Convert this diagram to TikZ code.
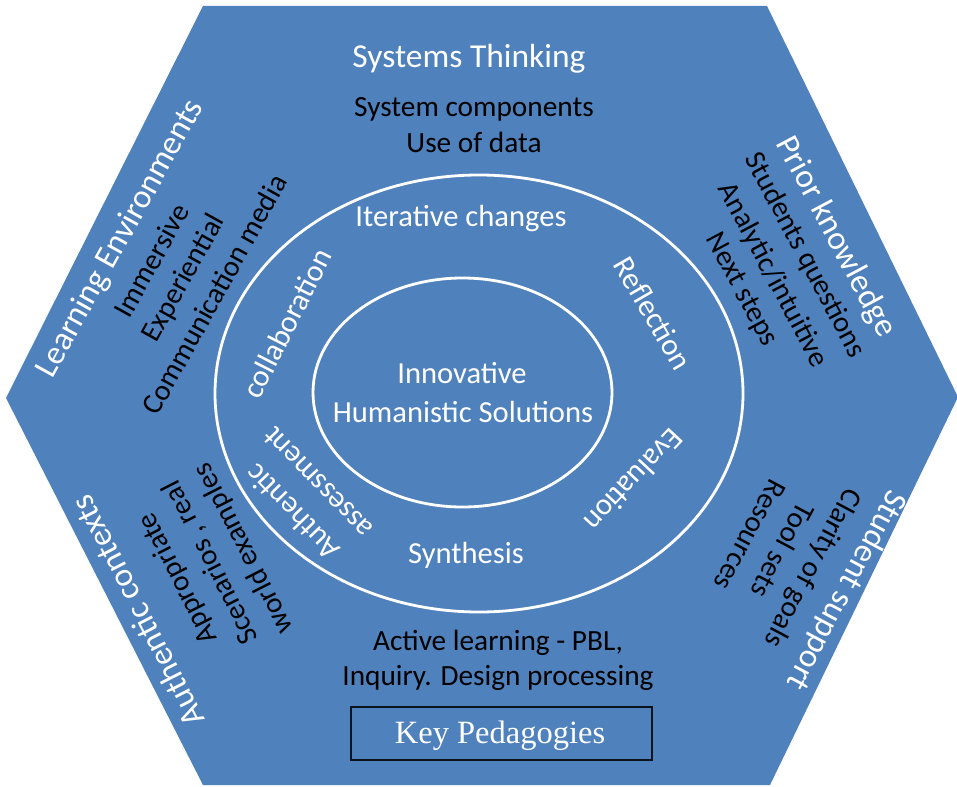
\documentclass[tikz,border=0pt]{standalone}
\usepackage{fontspec}
\setmainfont{Carlito}
\newfontfamily\serifkp{Liberation Serif}
\definecolor{hexblue}{RGB}{79,129,189}
\tikzset{
  heading/.style={text=white, font=\fontsize{33.5}{38}\selectfont, inner sep=0pt},
  ringtext/.style={text=white, font=\fontsize{30.6}{36}\selectfont, inner sep=0pt},
  itemtext/.style={text=black, font=\fontsize{29.3}{35}\selectfont, inner sep=0pt},
  ringline/.style={draw=white, line width=2.8pt},
  keybox/.style={draw=black!85!hexblue, line width=1.4pt, fill=none},
}
\begin{document}
\begin{tikzpicture}[x=1pt,y=-1pt]
\useasboundingbox (0,0) rectangle (957,786);
% hexagon
\fill[hexblue] (203,6) -- (767,6) -- (958,397) -- (770,785) -- (203,785) -- (6,398) -- cycle;
% ellipses
\draw[ringline] (479,393.5) ellipse [x radius=264, y radius=218.5];
\draw[ringline] (462.5,392.5) ellipse [x radius=149.5, y radius=114.5];
% top
\node[heading, anchor=base] (st) at (469,68) {Systems Thinking};
\node[itemtext, anchor=base] (sc) at (474,117) {System components};
\node[itemtext, anchor=base] (ud) at (474,153) {Use of data};
% ring
\node[ringtext, anchor=base] (ic) at (461,226) {Iterative changes};
\node[ringtext, anchor=base] (inn) at (462,383) {Innovative};
\node[ringtext, anchor=base] (hs) at (463,422) {Humanistic Solutions};
\node[ringtext, anchor=base] (syn) at (466,563) {Synthesis};
\node[ringtext, anchor=mid, rotate=63] (col) at (294,327) {collaboration};
\node[ringtext, anchor=mid, rotate=-60] (ref) at (646,317) {Reflection};
\node[ringtext, anchor=mid, rotate=-133] (eva) at (628,475) {Evaluation};
\node[ringtext, anchor=mid, rotate=134] (aut) at (298,507) {Authentic};
\node[ringtext, anchor=mid, rotate=134] (ass) at (323,478) {assessment};
% bottom
\node[itemtext, anchor=base] (al) at (498,650) {Active learning - PBL,};
\node[itemtext, anchor=base] (iq) at (498,685) {Inquiry. Design processing};
\draw[keybox] (351,707) rectangle (652,760);
\node[text=white, font=\serifkp\fontsize{32.5}{36}\selectfont, anchor=base, inner sep=0pt] (kp) at (500,743) {Key Pedagogies};
% learning environments
\node[heading, anchor=mid, rotate=61] (le) at (126,242) {Learning Environments};
\node[itemtext, anchor=mid, rotate=61] (imm) at (158,264) {Immersive};
\node[itemtext, anchor=mid, rotate=61] (exp) at (189,281) {Experiential};
\node[itemtext, anchor=mid, rotate=61] (com) at (221,298) {Communication media};
% prior knowledge
\node[heading, anchor=mid, rotate=-62] (pk) at (830,240) {Prior knowledge};
\node[itemtext, anchor=mid, rotate=-62] (sq) at (800,258) {Students questions};
\node[itemtext, anchor=mid, rotate=-62] (ai) at (768,278) {Analytic/intuitive};
\node[itemtext, anchor=mid, rotate=-62] (ns) at (737,292) {Next steps};
% student support
\node[heading, anchor=mid, rotate=-118] (ss) at (840,587) {Student support};
\node[itemtext, anchor=mid, rotate=-118] (cg) at (807,565) {Clarity of goals};
\node[itemtext, anchor=mid, rotate=-118] (ts) at (776,547) {Tool sets};
\node[itemtext, anchor=mid, rotate=-118] (res) at (744,532) {Resources};
% authentic contexts
\node[heading, anchor=mid, rotate=117] (ac) at (145,607) {Authentic contexts};
\node[itemtext, anchor=mid, rotate=117] (app) at (183,576) {Appropriate};
\node[itemtext, anchor=mid, rotate=117] (sr) at (216,560) {Scenarios , real};
\node[itemtext, anchor=mid, rotate=117] (we) at (249,546) {world examples};
\end{tikzpicture}
\end{document}
